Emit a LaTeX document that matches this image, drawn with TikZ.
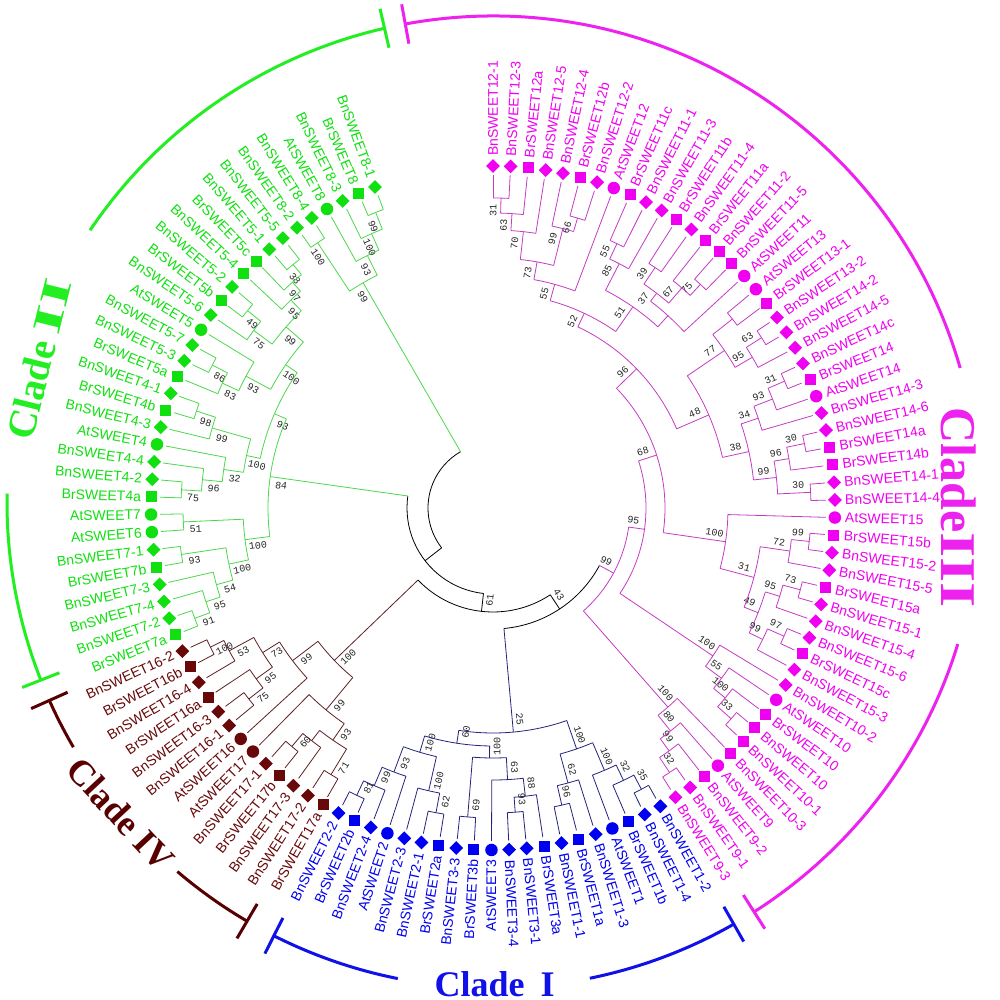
\documentclass[tikz,border=0pt]{standalone}
\usepackage{fontspec}
\setmainfont{Liberation Serif}
\newfontfamily\leaffont{Liberation Sans}
\newfontfamily\bootfont{Liberation Mono}
\usetikzlibrary{shapes.geometric}

\definecolor{txI}{HTML}{0000F0}
\definecolor{txII}{HTML}{10E010}
\definecolor{txIII}{HTML}{F000F0}
\definecolor{txIV}{HTML}{680808}
\definecolor{lnI}{HTML}{24247E}
\definecolor{lnII}{HTML}{4CD84C}
\definecolor{lnIII}{HTML}{C43CC4}
\definecolor{lnIV}{HTML}{5E2222}
\definecolor{arcI}{HTML}{1010E8}
\definecolor{arcII}{HTML}{22EE22}
\definecolor{arcIII}{HTML}{EE22EE}
\definecolor{arcIV}{HTML}{580000}

\tikzset{
  dia/.style={diamond, minimum size=14pt, inner sep=0pt},
  sqr/.style={rectangle, minimum size=11pt, inner sep=0pt},
  cir/.style={circle, minimum size=12.5pt, inner sep=0pt},
  lbl/.style={font=\leaffont\fontsize{14}{14}\selectfont, inner sep=0pt},
  boot/.style={font=\bootfont\fontsize{10}{10}\selectfont, inner sep=0pt, text=black!85},
  branch/.style={line width=0.8pt},
  cladearc/.style={line width=3pt},
  cladename/.style={font=\bfseries\fontsize{40}{40}\selectfont, inner sep=0pt}
}

\def\nolab{x}
% leaf: index, parent radius, marker, name, text colour, line colour
\newcommand\leaf[6]{%
  \pgfmathsetmacro\angT{90-(#1-1)*2.955}%
  \draw[branch, #6] (\angT:#2pt) -- (\angT:333pt);
  \node[#3, fill=#5] (m#1) at (\angT:342pt) {};
  \pgfmathtruncatemacro\lft{(\angT+90<0) ? 1 : 0}%
  \ifnum\lft=1
    \node[lbl, text=#5, anchor=east, rotate=\angT+180] (t#1) at (\angT:352pt) {#4};
  \else
    \node[lbl, text=#5, anchor=west, rotate=\angT] (t#1) at (\angT:352pt) {#4};
  \fi}
% inner node: colour, position, radius, first child, last child, parent radius, value
\newcommand\clade[7]{%
  \pgfmathsetmacro\angN{90-(#2-1)*2.955}%
  \pgfmathsetmacro\angF{90-(#4-1)*2.955}%
  \pgfmathsetmacro\angL{90-(#5-1)*2.955}%
  \draw[branch, #1] (\angN:#6pt) -- (\angN:#3pt);
  \draw[branch, #1] (\angF:#3pt) arc[start angle=\angF, end angle=\angL, radius=#3pt];
  \edef\bval{#7}%
  \ifx\bval\nolab\else
    \pgfmathsetmacro\angV{\angN+450/#3}%
    \pgfmathsetlengthmacro\radV{#3pt-12pt}%
    \pgfmathtruncatemacro\lft{(\angN+90<0) ? 1 : 0}%
    \ifnum\lft=1
      \node[boot, rotate=\angN+180] at (\angV:\radV) {#7};
    \else
      \node[boot, rotate=\angN] at (\angV:\radV) {#7};
    \fi
  \fi}

\begin{document}
\begin{tikzpicture}[x=1pt, y=1pt]
\useasboundingbox[fill=white] (-493,-492) rectangle (507,508);

% backbone
\clade{black}{96.13}{65}{79.5767}{112.6875}{65}{x}
\clade{black}{79.5767}{86}{64.0674}{95.0859}{65}{x}
\clade{black}{64.0674}{104}{50.6035}{77.53125}{86}{61}
\clade{black}{50.6035}{121}{41.05078}{60.15625}{104}{43}

% clade III
\foreach \ps/\rd/\fs/\ls/\pr/\bv in {
  1.5/310/1/2/295/31, 2.25/295/1.5/3/278/63, 3.125/278/2.25/4/250/70,
  6.5/302/6/7/288/66, 5.75/288/5/6.5/250/99, 4.4375/250/3.125/5.75/232/73,
  6.21875/232/4.4375/8/215/55, 9.5/292/9/10/275/55, 10.25/275/9.5/11/245/85,
  12.5/290/12/13/270/39, 15.5/305/15/16/290/75, 14.75/290/14/15.5/270/67,
  13.625/270/12.5/14.75/260/37, 15.3125/260/13.625/17/245/x,
  12.78125/245/10.25/15.3125/215/51, 9.5/215/6.21875/12.78125/200/52,
  18.5/305/18/19/280/x, 20.5/318/20/21/300/63, 21.25/300/20.5/22/280/95,
  19.875/280/18.5/21.25/235/77, 23.5/318/23/24/300/31, 24.25/300/23.5/25/280/93,
  25.125/280/24.25/26/262/34, 27.5/318/27/28/300/30, 28.25/300/27.5/29/285/96,
  30.5/318/30/31/285/30, 29.375/285/28.25/30.5/262/99,
  27.25/262/25.125/29.375/235/38, 23.5625/235/19.875/27.25/200/48,
  16.53125/200/9.5/23.5625/172/96,
  33.5/318/33/34/300/99, 34.25/300/33.5/35/270/72, 36.5/318/36/37/300/73,
  37.25/300/36.5/38/285/95, 39.5/318/39/40/300/97, 40.25/300/39.5/41/285/99,
  38.75/285/37.25/40.25/270/49, 36.5/270/34.25/38.75/235/31,
  34.25/235/32/36.5/172/100, 25.390625/172/16.53125/34.25/153/68,
  45.5/318/45/46/300/33, 44.75/300/44/45.5/285/100, 43.875/285/43/44.75/265/55,
  42.9375/265/42/43.875/153/100, 34.1640625/153/25.390625/42.9375/137/95,
  50.5/318/50/51/300/32, 49.75/300/49/50.5/285/99, 48.875/285/48/49.75/265/80,
  47.9375/265/47/48.875/137/100, 41.05078/137/34.1640625/47.9375/121/99}
  {\clade{lnIII}{\ps}{\rd}{\fs}{\ls}{\pr}{\bv}}

% clade I
\foreach \ps/\rd/\fs/\ls/\pr/\bv in {
  52.5/318/52/53/302/35, 53.25/302/52.5/54/285/32, 54.125/285/53.25/55/255/100,
  57.5/305/57/58/285/96, 56.75/285/56/57.5/255/62, 55.4375/255/54.125/56.75/225/100,
  60.5/305/60/61/290/93, 59.75/290/59/60.5/272/88, 60.875/272/59.75/62/250/63,
  63.5/310/63/64/250/69, 62.1875/250/60.875/63.5/238/100,
  65.5/310/65/66/290/62, 66.25/290/65.5/67/255/100,
  70.5/318/70/71/302/81, 69.75/302/69/70.5/282/99, 68.875/282/68/69.75/255/93,
  67.5625/255/66.25/68.875/238/100, 64.875/238/62.1875/67.5625/225/60,
  60.15625/225/55.4375/64.875/121/25}
  {\clade{lnI}{\ps}{\rd}{\fs}{\ls}{\pr}{\bv}}

% clade IV
\foreach \ps/\rd/\fs/\ls/\pr/\bv in {
  72.5/312/72/73/282/71, 75.5/312/75/76/295/60, 74.75/295/74/75.5/282/x,
  73.625/282/72.5/74.75/262/93, 75.3125/262/73.625/77/220/99,
  79.5/310/79/80/292/75, 80.25/292/79.5/81/272/95, 83.5/315/83/84/300/100,
  82.75/300/82/83.5/272/53, 81.5/272/80.25/82.75/252/73, 79.75/252/78/81.5/220/99,
  77.53125/220/75.3125/79.75/104/100}
  {\clade{lnIV}{\ps}{\rd}{\fs}{\ls}{\pr}{\bv}}

% clade II
\foreach \ps/\rd/\fs/\ls/\pr/\bv in {
  85.5/318/85/86/302/91, 86.25/302/85.5/87/287/95, 87.125/287/86.25/88/270/54,
  89.5/315/89/90/270/93, 88.3125/270/87.125/89.5/250/100, 91.5/310/91/92/250/51,
  89.90625/250/88.3125/91.5/225/100,
  93.5/312/93/94/292/75, 94.25/292/93.5/95/272/96, 95.125/272/94.25/96/252/32,
  98.5/312/98/99/292/98, 97.75/292/97/98.5/252/99, 96.4375/252/95.125/97.75/238/100,
  101.5/315/101/102/298/86, 100.75/298/100/101.5/280/83, 101.875/280/100.75/103/252/93,
  105.5/315/105/106/298/49, 104.75/298/104/105.5/275/75,
  109.5/315/109/110/302/38, 108.75/302/108/109.5/290/97, 107.875/290/107/108.75/275/95,
  106.3125/275/104.75/107.875/252/99, 104.09375/252/101.875/106.3125/238/100,
  100.265625/238/96.4375/104.09375/225/93, 95.0859/225/89.90625/100.265625/86/84,
  111.5/318/111/112/260/100, 115.5/318/115/116/300/99, 114.75/300/114/115.5/282/100,
  113.875/282/113/114.75/260/93, 112.6875/260/111.5/113.875/65/99}
  {\clade{lnII}{\ps}{\rd}{\fs}{\ls}{\pr}{\bv}}

% leaves
\foreach \ix/\pr/\sh/\nm in {
  1/310/dia/BnSWEET12-1, 2/310/dia/BnSWEET12-3, 3/295/sqr/BrSWEET12a,
  4/278/dia/BnSWEET12-5, 5/288/dia/BnSWEET12-4, 6/302/sqr/BrSWEET12b,
  7/302/dia/BnSWEET12-2, 8/232/cir/AtSWEET12, 9/292/sqr/BrSWEET11c,
  10/292/dia/BnSWEET11-1, 11/275/dia/BnSWEET11-3, 12/290/sqr/BrSWEET11b,
  13/290/dia/BnSWEET11-4, 14/290/sqr/BrSWEET11a, 15/305/sqr/BnSWEET11-2,
  16/305/sqr/BnSWEET11-5, 17/260/cir/AtSWEET11, 18/305/cir/AtSWEET13,
  19/305/sqr/BrSWEET13-1, 20/318/dia/BnSWEET13-2, 21/318/dia/BnSWEET14-2,
  22/300/dia/BnSWEET14-5, 23/318/dia/BnSWEET14c, 24/318/sqr/BrSWEET14,
  25/300/cir/AtSWEET14, 26/280/dia/BnSWEET14-3, 27/318/dia/BnSWEET14-6,
  28/318/sqr/BrSWEET14a, 29/300/sqr/BrSWEET14b, 30/318/dia/BnSWEET14-1,
  31/318/dia/BnSWEET14-4, 32/235/cir/AtSWEET15, 33/318/sqr/BrSWEET15b,
  34/318/dia/BnSWEET15-2, 35/300/dia/BnSWEET15-5, 36/318/sqr/BrSWEET15a,
  37/318/dia/BnSWEET15-1, 38/300/dia/BnSWEET15-4, 39/318/dia/BnSWEET15-6,
  40/318/sqr/BrSWEET15c, 41/300/dia/BnSWEET15-3, 42/265/dia/BnSWEET10-2,
  43/285/cir/AtSWEET10, 44/300/sqr/BrSWEET10, 45/318/sqr/BnSWEET10,
  46/318/sqr/BnSWEET10-1, 47/265/sqr/BnSWEET10-3, 48/285/cir/AtSWEET9,
  49/300/sqr/BnSWEET9-2, 50/318/dia/BnSWEET9-1, 51/318/dia/BnSWEET9-3}
  {\leaf{\ix}{\pr}{\sh}{\nm}{txIII}{lnIII}}
\foreach \ix/\pr/\sh/\nm in {
  52/318/dia/BnSWEET1-2, 53/318/dia/BnSWEET1-4, 54/302/sqr/BrSWEET1b,
  55/285/cir/AtSWEET1, 56/285/dia/BnSWEET1-3, 57/305/sqr/BrSWEET1a,
  58/305/dia/BnSWEET1-1, 59/290/sqr/BrSWEET3a, 60/305/dia/BnSWEET3-1,
  61/305/dia/BnSWEET3-4, 62/272/cir/AtSWEET3, 63/310/sqr/BrSWEET3b,
  64/310/dia/BnSWEET3-3, 65/310/sqr/BrSWEET2a, 66/310/dia/BnSWEET2-1,
  67/290/dia/BnSWEET2-3, 68/282/cir/AtSWEET2, 69/302/dia/BnSWEET2-4,
  70/318/sqr/BrSWEET2b, 71/318/dia/BnSWEET2-2}
  {\leaf{\ix}{\pr}{\sh}{\nm}{txI}{lnI}}
\foreach \ix/\pr/\sh/\nm in {
  72/312/sqr/BrSWEET17a, 73/312/dia/BnSWEET17-2, 74/295/dia/BnSWEET17-3,
  75/312/sqr/BrSWEET17b, 76/312/dia/BnSWEET17-1, 77/262/cir/AtSWEET17,
  78/252/cir/AtSWEET16, 79/310/dia/BnSWEET16-1, 80/310/dia/BnSWEET16-3,
  81/292/sqr/BrSWEET16a, 82/300/dia/BnSWEET16-4, 83/315/sqr/BrSWEET16b,
  84/315/dia/BnSWEET16-2}
  {\leaf{\ix}{\pr}{\sh}{\nm}{txIV}{lnIV}}
\foreach \ix/\pr/\sh/\nm in {
  85/318/sqr/BrSWEET7a, 86/318/dia/BnSWEET7-2, 87/302/dia/BnSWEET7-4,
  88/287/dia/BnSWEET7-3, 89/315/sqr/BrSWEET7b, 90/315/dia/BnSWEET7-1,
  91/310/cir/AtSWEET6, 92/310/cir/AtSWEET7, 93/312/sqr/BrSWEET4a,
  94/312/dia/BnSWEET4-2, 95/292/dia/BnSWEET4-4, 96/272/cir/AtSWEET4,
  97/292/dia/BnSWEET4-3, 98/312/sqr/BrSWEET4b, 99/312/dia/BnSWEET4-1,
  100/298/sqr/BrSWEET5a, 101/315/dia/BnSWEET5-3, 102/315/dia/BnSWEET5-7,
  103/280/cir/AtSWEET5, 104/298/dia/BnSWEET5-6, 105/315/sqr/BrSWEET5b,
  106/315/dia/BnSWEET5-2, 107/290/sqr/BnSWEET5-4, 108/302/sqr/BrSWEET5c,
  109/315/dia/BnSWEET5-1, 110/315/dia/BnSWEET5-5, 111/318/dia/BnSWEET8-2,
  112/318/dia/BnSWEET8-4, 113/282/cir/AtSWEET8, 114/300/dia/BnSWEET8-3,
  115/318/sqr/BrSWEET8, 116/318/dia/BnSWEET8-1}
  {\leaf{\ix}{\pr}{\sh}{\nm}{txII}{lnII}}

% clade brackets
\begin{scope}[shift={(0,6)}]
  \draw[cladearc, arcII] (102.9:486pt) arc[start angle=102.9, end angle=146, radius=486pt];
  \draw[cladearc, arcII] (179:486pt) arc[start angle=179, end angle=201.5, radius=486pt];
  \draw[cladearc, arcII] (102.9:466pt) -- (102.9:506pt);
  \draw[cladearc, arcII] (201.5:466pt) -- (201.5:506pt);
  \draw[cladearc, arcIII] (100.4:486pt) arc[start angle=100.4, end angle=16, radius=486pt];
  \draw[cladearc, arcIII] (-17:486pt) arc[start angle=-17, end angle=-57.5, radius=486pt];
  \draw[cladearc, arcIII] (100.4:466pt) -- (100.4:506pt);
  \draw[cladearc, arcIII] (-57.5:466pt) -- (-57.5:506pt);
  \draw[cladearc, arcI] (-60.3:486pt) arc[start angle=-60.3, end angle=-78.5, radius=486pt];
  \draw[cladearc, arcI] (-101.3:486pt) arc[start angle=-101.3, end angle=-116.8, radius=486pt];
  \draw[cladearc, arcI] (-60.3:466pt) -- (-60.3:506pt);
  \draw[cladearc, arcI] (-116.8:466pt) -- (-116.8:506pt);
  \draw[cladearc, arcIV] (204.1:486pt) arc[start angle=204.1, end angle=210.3, radius=486pt];
  \draw[cladearc, arcIV] (229.5:486pt) arc[start angle=229.5, end angle=239.6, radius=486pt];
  \draw[cladearc, arcIV] (204.1:466pt) -- (204.1:506pt);
  \draw[cladearc, arcIV] (239.6:466pt) -- (239.6:506pt);
  \node[cladename, text=arcII, rotate=76] (cII) at (162.5:476pt) {Clade\hspace{8pt}\scalebox{1.8}[1]{II}};
  \node[cladename, text=arcIII, rotate=-90, font=\bfseries\fontsize{50}{50}\selectfont] (cIII) at (-0.7:466pt) {Clade\scalebox{1.3}[1]{III}};
  \node[cladename, text=arcI, font=\bfseries\fontsize{36}{36}\selectfont] (cI) at (-89.8:482pt) {Clade\hspace{16pt}I};
  \node[cladename, text=arcIV, rotate=-47, font=\bfseries\fontsize{36}{36}\selectfont] (cIV) at (220:486pt) {Clade IV};
\end{scope}
\end{tikzpicture}
\end{document}
